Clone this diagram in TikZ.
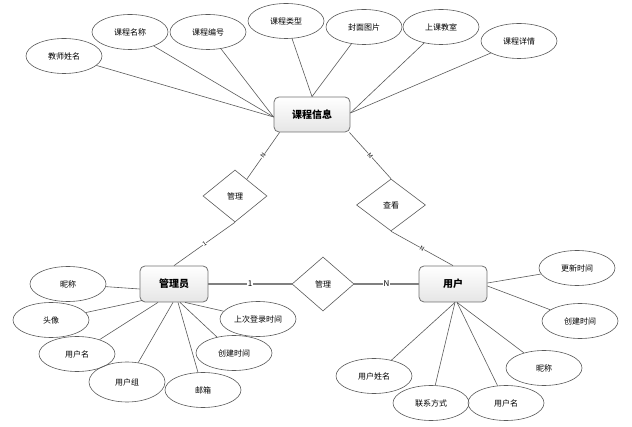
\documentclass[tikz,border=0pt]{standalone}
\usepackage{fontspec}
\setmainfont{Noto Sans CJK SC}
\usetikzlibrary{shapes.geometric,calc}
\definecolor{ln}{HTML}{5A5A5A}
\definecolor{bd}{HTML}{707070}
\tikzset{
  attr/.style={ellipse,draw=ln,line width=0.6pt,minimum width=76pt,minimum height=35pt,inner sep=0pt,font=\fontsize{8}{9}\selectfont},
  ent/.style={rectangle,rounded corners=5pt,draw=bd,line width=0.8pt,top color=white,bottom color=black!10,minimum width=76pt,minimum height=35pt,inner sep=0pt,font=\fontsize{10}{12}\selectfont\bfseries},
  rel/.style={diamond,draw=ln,line width=0.6pt,inner sep=0pt,font=\fontsize{8}{9}\selectfont},
  conn/.style={draw=ln,line width=0.6pt},
  thick conn/.style={draw=black!50,line width=1.4pt},
  card/.style={font=\fontsize{6}{6}\selectfont,fill=white,inner sep=0.3pt,sloped,pos=0.5},
  hcard/.style={font=\fontsize{8}{8}\selectfont,fill=white,inner sep=0.6pt,pos=0.5}
}
\begin{document}
\begin{tikzpicture}[x=1pt,y=-1pt]
\useasboundingbox (0,0) rectangle (632,427);
% entities
\node[ent] (ci) at (312,114.5) {课程信息};
\node[ent,minimum width=68pt,minimum height=36pt] (ga) at (174,284) {管理员};
\node[ent,minimum width=68pt,minimum height=36pt] (us) at (453,284) {用户};
% relations
\node[rel,minimum width=64pt,minimum height=52pt] (d1) at (235,196) {管理};
\node[rel,minimum width=69pt,minimum height=52pt] (d2) at (391,205) {查看};
\node[rel,minimum width=62pt,minimum height=54pt] (dm) at (323,284) {管理};
% course attributes
\node[attr] (a1) at (64,56) {教师姓名};
\node[attr] (a2) at (130,32) {课程名称};
\node[attr] (a3) at (208,32) {课程编号};
\node[attr] (a4) at (286,21) {课程类型};
\node[attr] (a5) at (364,27) {封面图片};
\node[attr] (a6) at (441,27) {上课教室};
\node[attr] (a7) at (519,41) {课程详情};
% admin attributes
\node[attr] (b1) at (68,284) {昵称};
\node[attr] (b2) at (51,320) {头像};
\node[attr] (b3) at (77,354) {用户名};
\node[attr,minimum height=40pt] (b4) at (127,382) {用户组};
\node[attr] (b5) at (203,390) {邮箱};
\node[attr] (b6) at (234,353) {创建时间};
\node[attr] (b7) at (258,319) {上次登录时间};
% user attributes
\node[attr] (c1) at (577,268) {更新时间};
\node[attr] (c2) at (580,321) {创建时间};
\node[attr] (c3) at (544,368) {昵称};
\node[attr] (c4) at (506,403) {用户名};
\node[attr] (c5) at (431,403) {联系方式};
\node[attr] (c6) at (374,376) {用户姓名};
% course attribute links
\coordinate (ciw) at ($(ci.west)+(0,2.5)$);
\draw[conn] (a1) -- (ciw);
\draw[conn] (a2) -- (ciw);
\draw[conn] (a3) -- (ciw);
\draw[conn] (a4) -- (ci.north);
\draw[conn] (a5) -- (ci.north);
\draw[conn] (a6) -- ($(ci.east)+(0,-1.5)$);
\draw[conn] (a7) -- ($(ci.east)+(0,-1.5)$);
% relation links
\draw[conn] ($(ci.south west)+(6,0)$) -- (d1) node[card]{N};
\draw[conn] (d1.south) -- (ga.north) node[card]{1};
\draw[conn] ($(ci.south east)+(-1,0)$) -- (d2.north) node[card]{M};
\draw[conn] (d2.south) -- (us.north) node[card]{N};
\draw[thick conn] (ga.east) -- (dm.west) node[hcard]{1};
\draw[thick conn] (dm.east) -- (us.west) node[hcard]{N};
% admin attribute links
\draw[conn] (b1) -- ($(ga.west)+(0,5)$);
\draw[conn] (b2) -- ($(ga.south west)+(3,-2)$);
\draw[conn] (b3) -- ($(ga.south)+(-16,0)$);
\draw[conn] (b4) -- ($(ga.south)+(-1,0)$);
\draw[conn] (b5) -- ($(ga.south)+(4,0)$);
\draw[conn] (b6) -- ($(ga.south)+(6,0)$);
\draw[conn] (b7) -- ($(ga.south)+(11,0)$);
% user attribute links
\draw[conn] (c1) -- ($(us.east)+(0,-1)$);
\draw[conn] (c2) -- ($(us.east)+(0,2)$);
\draw[conn] (c3) -- ($(us.south)+(4,0)$);
\draw[conn] (c4) -- ($(us.south)+(4,0)$);
\draw[conn] (c5) -- ($(us.south)+(2,0)$);
\draw[conn] (c6) -- ($(us.south)+(2,0)$);
\end{tikzpicture}
\end{document}
